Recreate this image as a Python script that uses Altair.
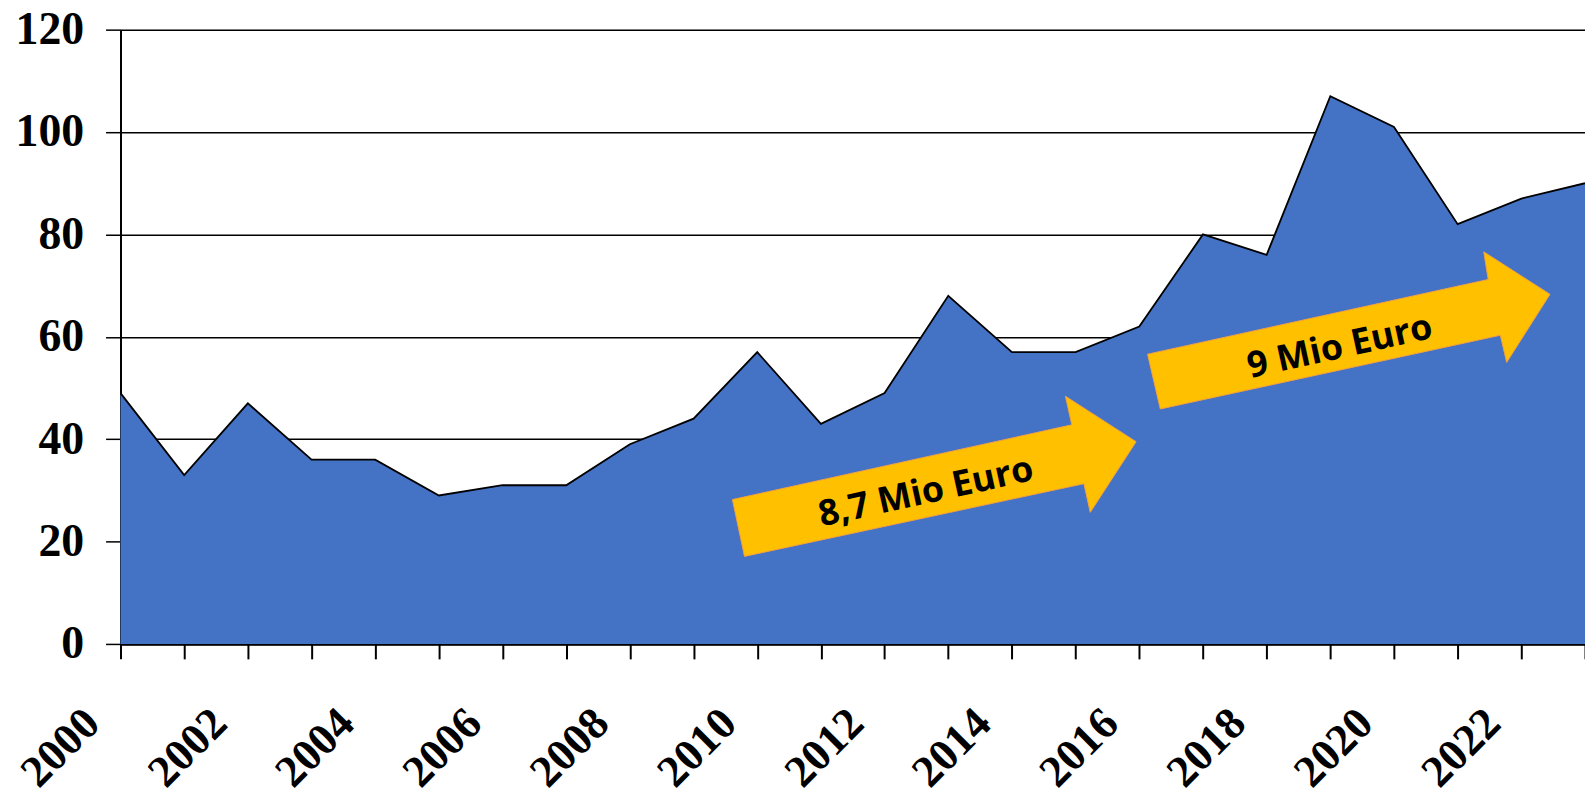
import altair as alt
import pandas as pd

years = list(range(2000, 2024))
values = [49, 33, 47, 36, 36, 29, 31, 31, 39, 44, 57, 43, 49, 68, 57, 57, 62, 80, 76, 107, 101, 82, 87, 90]

# arrow outlines in data coordinates (year, value)
arrow1_x = [2009.61, 2014.94, 2014.84, 2015.95, 2015.23, 2015.13, 2009.80, 2009.61]
arrow1_y = [28.2, 42.8, 48.4, 39.5, 25.7, 31.3, 17.1, 28.2]
arrow2_x = [2016.13, 2021.48, 2021.41, 2022.45, 2021.77, 2021.67, 2016.33, 2016.13]
arrow2_y = [56.6, 71.2, 76.6, 68.3, 55.0, 60.3, 45.9, 56.6]

labels = ["8,7 Mio Euro", "9 Mio Euro"]
label_x = [2012.65, 2019.15]
label_y = [29.6, 58.0]

df = pd.DataFrame({"year": years, "value": values})
arrows = pd.DataFrame({
    "ax": arrow1_x + arrow2_x,
    "ay": arrow1_y + arrow2_y,
    "arrow": ["a1"] * len(arrow1_x) + ["a2"] * len(arrow2_x),
    "idx": list(range(len(arrow1_x))) + list(range(len(arrow2_x))),
})
texts = pd.DataFrame({"tx": label_x, "ty": label_y, "label": labels})

xscale = alt.Scale(domain=[2000, 2023], nice=False, zero=False)
yscale = alt.Scale(domain=[0, 120], nice=False)

xaxis = alt.Axis(
    title=None, values=years, grid=False,
    labelExpr="datum.value % 2 == 0 ? datum.label : ''",
    format="d", labelAngle=315, labelAlign="right", labelBaseline="middle",
    labelFont="Liberation Serif", labelFontWeight="bold", labelFontSize=45,
    labelColor="black", labelOffset=-29, labelPadding=57,
    labelOverlap=False, labelFlush=False, labelBound=False,
    tickSize=15, tickColor="black", tickWidth=2,
    domainColor="black", domainWidth=2.5,
)
yaxis = alt.Axis(
    title=None, values=[0, 20, 40, 60, 80, 100, 120], grid=True,
    gridColor="black", gridWidth=1.5, gridOpacity=1,
    labelFont="Liberation Serif", labelFontWeight="bold", labelFontSize=46,
    labelColor="black", labelPadding=22, labelBaseline="middle",
    tickSize=15, tickColor="black", tickWidth=1.5,
    domainColor="black", domainWidth=2,
)

area = alt.Chart(df).mark_area(
    color="#4472C4", opacity=1,
    line={"color": "black", "strokeWidth": 1.8},
).encode(
    x=alt.X("year:Q", scale=xscale, axis=xaxis),
    y=alt.Y("value:Q", scale=yscale, axis=yaxis),
)

arrow_marks = alt.Chart(arrows).mark_line(
    fill="#FFC000", stroke="#F0A040", strokeWidth=1, fillOpacity=1,
).encode(
    x=alt.X("ax:Q", scale=xscale),
    y=alt.Y("ay:Q", scale=yscale),
    detail="arrow:N",
    order="idx:Q",
)

text_marks = alt.Chart(texts).mark_text(
    font="Open Sans", fontWeight="bold", fontSize=36, color="black",
    angle=347.6, align="center", baseline="middle",
).encode(
    x=alt.X("tx:Q", scale=xscale),
    y=alt.Y("ty:Q", scale=yscale),
    text="label:N",
)

chart = alt.layer(area, arrow_marks, text_marks).properties(
    width=1471, height=617,
    padding={"left": 113, "top": 20, "right": 0, "bottom": 151},
    autosize=alt.AutoSizeParams(type="none"),
).configure_view(stroke=None).configure(background="white")

chart.save("out.html", embed_options={"renderer": "svg", "actions": False})
